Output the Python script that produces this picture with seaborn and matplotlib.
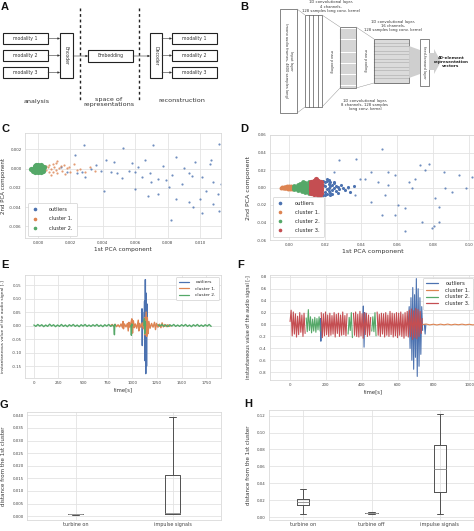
import numpy as np
import pandas as pd
import matplotlib
matplotlib.use("Agg")
import matplotlib.pyplot as plt
import matplotlib.ticker as mt
from matplotlib.patches import Rectangle, Polygon
from matplotlib.lines import Line2D
import seaborn as sns

nan = np.nan

# ---------------- DATA ----------------
# Panel C (PCA, 2 clusters)
c_outliers_x = [0.00285, 0.00525, 0.0071, 0.0112, 0.0023, 0.0042, 0.0047, 0.0066, 0.0085, 0.0097,
                0.0106, 0.0033, 0.0039, 0.0045, 0.0049, 0.0056, 0.0060, 0.0064, 0.0069, 0.0074,
                0.0079, 0.0083, 0.0089, 0.0093, 0.0101, 0.0108, 0.0113, 0.0041, 0.0060, 0.0074,
                0.0085, 0.0093, 0.0100, 0.0108, 0.0101, 0.0112, 0.0082, 0.0096, 0.0070, 0.0081,
                0.0068, 0.0104, 0.0111, 0.0018, 0.0024, 0.0014, 0.0029, 0.0036, 0.0052, 0.0077,
                0.0090, 0.0058, 0.0027, 0.0062, 0.0095, 0.0107]
c_outliers_y = [0.00246, 0.0021, 0.0025, 0.0026, 0.0014, 0.0009, 0.0007, 0.0009, 0.0012, 0.0007,
                0.0005, 0.0000, -0.0002, -0.0004, -0.0005, -0.0002, -0.0004, -0.0009, -0.0005, -0.0011,
                -0.0012, -0.0007, -0.0016, -0.0005, -0.0009, -0.0014, -0.0016, -0.0023, -0.0021, -0.0026,
                -0.0032, -0.0035, -0.0032, -0.0037, -0.0046, -0.0044, -0.0053, -0.0040, -0.0014, -0.0019,
                -0.0028, -0.0023, -0.0026, -0.0004, -0.0005, 0.0002, -0.0009, 0.0004, -0.0010, 0.0003,
                0.0001, 0.0006, -0.0003, 0.0002, -0.0008, 0.0009]
c_cluster1_x = [0.0003, 0.0004, 0.0005, 0.0005, 0.0006, 0.0007, 0.0007, 0.0008, 0.0009, 0.0009,
                0.0010, 0.0011, 0.0011, 0.0012, 0.0013, 0.0014, 0.0015, 0.0016, 0.0017, 0.0018,
                0.0019, 0.0020, 0.0022, 0.0024, 0.0026, 0.0029, 0.0032, 0.0035, 0.0012, 0.0008]
c_cluster1_y = [0.0001, -0.0002, 0.0003, -0.0001, 0.0002, -0.0003, 0.0004, 0.0000, 0.0005, -0.0004,
                0.0002, -0.0001, 0.0006, -0.0005, 0.0001, 0.0003, -0.0002, 0.0004, -0.0006, 0.0001,
                0.0002, -0.0003, 0.0005, -0.0001, 0.0000, -0.0004, 0.0002, -0.0002, 0.0008, -0.0007]
c_cluster2_x = [-0.0003, -0.0002, -0.0001, 0.0000, 0.0001, 0.0002, 0.0003, -0.0003, -0.0002, -0.0001,
                0.0000, 0.0001, 0.0002, 0.0003, -0.0002, -0.0001, 0.0000, 0.0001, 0.0002, -0.0002,
                0.0000, 0.0002, 0.0004, -0.0004, 0.0001]
c_cluster2_y = [0.0000, 0.0001, 0.0002, 0.0002, 0.0001, 0.0002, 0.0001, -0.0002, -0.0002, -0.0001,
                -0.0001, -0.0002, -0.0001, -0.0002, 0.0003, 0.0004, 0.0004, 0.0003, 0.0004, -0.0003,
                -0.0003, -0.0003, 0.0002, 0.0000, 0.0000]

# Panel D (PCA, 3 clusters)
d_outliers_core_x = [0.019, 0.019, 0.020, 0.020, 0.020, 0.021, 0.021, 0.021, 0.022, 0.022,
                     0.022, 0.023, 0.023, 0.023, 0.024, 0.024, 0.025, 0.025, 0.026, 0.026,
                     0.027, 0.028, 0.029, 0.030, 0.031, 0.033, 0.034, 0.036, 0.020, 0.022,
                     0.024, 0.019, 0.021, 0.023, 0.025, 0.027]
d_outliers_core_y = [0.008, -0.008, 0.006, 0.002, -0.005, 0.007, -0.002, -0.007, 0.004, 0.000,
                     -0.004, 0.006, -0.006, 0.002, 0.003, -0.003, 0.005, -0.001, 0.002, -0.004,
                     0.001, -0.002, 0.003, 0.000, -0.003, 0.001, -0.005, 0.002, -0.009, 0.009,
                     -0.007, 0.003, 0.010, -0.009, 0.006, -0.006]
d_outliers_far_x = [0.028, 0.0374, 0.0252, 0.0458, 0.0495, 0.0458, 0.0514, 0.0327, 0.0364, 0.042,
                    0.0551, 0.0589, 0.0607, 0.0645, 0.0682, 0.070, 0.0729, 0.0757, 0.0776, 0.0813,
                    0.0832, 0.0869, 0.0907, 0.0944, 0.0981, 0.1019, 0.0794, 0.0738, 0.0645, 0.0589,
                    0.0514, 0.0392, 0.0533, 0.0664, 0.086, 0.0551, 0.0832, 0.0804]
d_outliers_far_y = [0.031, 0.033, 0.0177, 0.0177, 0.0064, -0.0162, -0.031, -0.001, -0.0087, 0.0102,
                    0.0026, 0.014, -0.020, -0.0238, -0.0011, 0.0102, 0.0253, 0.0196, 0.0272, -0.0125,
                    -0.0219, -0.0011, -0.0049, 0.014, -0.0011, 0.012, -0.046, -0.039, -0.050, -0.031,
                    0.044, 0.0102, -0.0087, 0.0064, 0.0177, 0.0177, -0.039, -0.0445]
d_cluster1_x = [-0.0045, -0.004, -0.0035, -0.003, -0.0025, -0.002, -0.0015, -0.001, -0.0005, 0.0,
                0.0005, 0.001, 0.0015, 0.002, -0.003, -0.002, -0.001, 0.0, 0.001, -0.0025,
                -0.0015, -0.0005, 0.0005]
d_cluster1_y = [0.0, 0.0005, -0.0005, 0.0008, -0.0008, 0.0010, -0.0010, 0.0012, -0.0012, 0.0013,
                -0.0013, 0.0014, -0.0012, 0.0010, -0.0005, 0.0003, -0.0004, 0.0005, -0.0006, 0.0,
                0.0002, -0.0002, 0.0]
d_cluster2_x = [0.003, 0.003, 0.003, 0.005, 0.005, 0.005, 0.005, 0.007, 0.007, 0.007,
                0.007, 0.007, 0.009, 0.009, 0.009, 0.009, 0.009, 0.009, 0.011, 0.011,
                0.011, 0.011, 0.011, 0.004, 0.006, 0.008, 0.010, 0.008, 0.010, 0.006]
d_cluster2_y = [0.0015, 0.0, -0.0015, 0.0025, 0.0008, -0.0008, -0.0025, 0.0038, 0.0015, 0.0,
                -0.0015, -0.0038, 0.005, 0.0025, 0.0008, -0.0008, -0.0025, -0.005, 0.0058, 0.003,
                0.0, -0.003, -0.0058, 0.0, 0.0, 0.0, 0.0015, 0.006, -0.0045, 0.0045]
d_cluster3_x = [0.012, 0.012, 0.012, 0.012, 0.012, 0.014, 0.014, 0.014, 0.014, 0.014,
                0.014, 0.016, 0.016, 0.016, 0.016, 0.016, 0.016, 0.018, 0.018, 0.018,
                0.018, 0.018, 0.013, 0.015, 0.017, 0.015, 0.017, 0.013]
d_cluster3_y = [0.006, 0.003, 0.0, -0.003, -0.006, 0.0075, 0.0045, 0.0015, -0.0015, -0.0045,
                -0.0075, 0.008, 0.005, 0.0017, -0.0017, -0.005, -0.008, 0.0065, 0.003, 0.0,
                -0.003, -0.0065, 0.0015, 0.0, 0.0, 0.0095, -0.009, -0.0015]

# Panel E (signal, 2 clusters)
e_outliers_t = [1095, 1098, 1101, 1104, 1107, nan, 1120, 1124, 1128, 1132, 1136, 1140, 1144, 1148, 1152]
e_outliers_v = [0.0, 0.062, -0.074, 0.05, 0.0, nan, 0.0, 0.09, -0.13, 0.17, -0.178, 0.12, -0.15, 0.08, 0.0]
e_cluster1_t = [780, 795, 810, 825, 840, 855, 870, 885, 900, 905, 910, 920, 935, 950, 958, 965, 975,
                985, 995, 1002, 1010, 1020, 1030, 1045, 1060, 1066, 1075, 1085, 1100, 1110, 1125,
                1130, 1140, 1146, 1152, 1160, 1168, 1180, 1195, 1210, 1225, 1235, 1245, 1260, 1275,
                1290, 1302, 1315, 1330, 1345, 1360, 1375, 1390]
e_cluster1_v = [0.0, 0.004, -0.003, 0.005, -0.004, 0.003, -0.005, 0.006, -0.008, 0.015, -0.012, 0.006,
                -0.005, 0.008, -0.02, 0.012, -0.006, 0.01, 0.025, -0.028, 0.018, -0.008, 0.006, -0.01,
                0.02, -0.02, 0.008, -0.006, 0.01, -0.012, 0.03, -0.035, 0.05, -0.04, 0.03, -0.03,
                0.015, -0.01, 0.008, -0.006, 0.012, -0.015, 0.008, -0.006, 0.005, -0.008, 0.01,
                -0.005, 0.004, -0.004, 0.003, -0.003, 0.0]
e_cluster2_t = (list(range(0, 801, 20)) + [nan, 812, 818, 822, 828, nan, 985, 990, 995, 1000, nan,
                1118, 1122, 1126, 1130, 1134, nan] + list(range(1260, 1801, 20)))
e_cluster2_v = ([0.002, -0.003, 0.004, -0.002, 0.003, -0.004, 0.002, -0.003, 0.005, -0.002,
                 0.003, -0.004, 0.002, -0.003, 0.004, -0.003, 0.002, -0.004, 0.003, -0.002,
                 0.004, -0.003, 0.002, -0.004, 0.003, -0.002, 0.004, -0.003, 0.002, -0.003,
                 0.003, -0.002, 0.004, -0.003, 0.002, -0.004, 0.003, -0.002, 0.004, -0.003, 0.002]
                + [nan, 0.0, -0.034, 0.004, 0.0, nan, 0.0, -0.036, 0.006, 0.0, nan,
                   0.0, 0.025, -0.03, 0.015, 0.0, nan]
                + [0.003, -0.002, 0.004, -0.003, 0.002, -0.004, 0.003, -0.002, 0.004, -0.003,
                   0.002, -0.003, 0.003, -0.002, 0.004, -0.003, 0.002, -0.004, 0.003, -0.002,
                   0.004, -0.003, 0.002, -0.003, 0.003, -0.002, 0.004, -0.003])

# Panel F (signal, 3 clusters)
f_noise_t = list(range(0, 739, 6))
f_noise_v = [0.05, 0.24, -0.19, 0.21, -0.16, 0.18, -0.21, 0.14, -0.17, 0.20,
             -0.13, 0.16, -0.20, 0.19, -0.15, 0.11, -0.12, 0.25, -0.10, 0.13,
             -0.14, 0.09, -0.11, 0.12, -0.13, 0.10, -0.09, 0.13, -0.11, 0.20,
             -0.22, 0.18, -0.19, 0.21, -0.17, 0.16, -0.20, 0.19, -0.18, 0.15,
             -0.16, 0.20, -0.21, 0.17, -0.15, 0.19, -0.20, 0.16, -0.18, 0.21,
             -0.17, 0.15, -0.19, 0.18, -0.16, 0.12, -0.10, 0.20, -0.22, 0.19,
             -0.18, 0.21, -0.20, 0.17, -0.21, 0.22, -0.19, 0.18, -0.23, 0.20,
             -0.17, 0.19, -0.20, 0.16, -0.18, 0.12, -0.11, 0.13, -0.12, 0.20,
             -0.19, 0.21, -0.18, 0.17, -0.20, 0.19, -0.16, 0.18, -0.21, 0.20,
             -0.18, 0.16, -0.20, 0.22, -0.17, 0.19, -0.21, 0.18, -0.19, 0.20,
             -0.22, 0.19, -0.18, 0.21, -0.20, 0.17, -0.23, 0.20, -0.19, 0.22,
             -0.21, 0.24, -0.20, 0.26, -0.25, 0.23, -0.22, 0.27, -0.24, 0.25,
             -0.20, 0.22, -0.15, 0.10]
f_cluster2_spans = [(88, 172), (322, 348), (455, 482)]
f_outliers_t = [166, 169, 172, 175, 178, nan, 405, 409, 413, 417, 421, nan,
                660, 665, 670, 675, 680, 685, 690, 695, 700, 705, 710, 715, 720, 725, 730, 735, 740,
                nan, 750, 754, 758]
f_outliers_v = [0.0, 0.1, -0.28, 0.08, 0.0, nan, 0.0, 0.31, -0.38, 0.2, 0.0, nan,
                0.0, 0.3, -0.4, 0.45, -0.6, 0.62, -0.75, 0.5, -0.55, 0.77, -0.87, 0.6, -0.7,
                0.45, -0.5, 0.3, -0.1, nan, 0.0, -0.16, 0.0]
f_cluster1_t = list(range(740, 1041, 20))
f_cluster1_v = [0.0, 0.008, -0.006, 0.005, -0.007, 0.006, -0.005, 0.007, -0.006, 0.005,
                -0.004, 0.006, -0.005, 0.004, -0.006, 0.003]

# Panels G, H (box plots: whisker-low, q1, median, q3, whisker-high)
g_categories = ["turbine on", "impulse signals"]
g_turbine_on = [0.00065, 0.00075, 0.0008, 0.00088, 0.00095]
g_impulse = [0.0008, 0.0010, 0.0011, 0.0165, 0.0393]
h_categories = ["turbine on", "turbine off", "impulse signals"]
h_turbine_on = [0.0035, 0.0145, 0.0185, 0.022, 0.0335]
h_turbine_off = [0.0043, 0.0048, 0.0051, 0.0054, 0.0060]
h_impulse = [0.0035, 0.0305, 0.0565, 0.0855, 0.122]

cluster_names = ["outliers", "cluster 1.", "cluster 2.", "cluster 3."]

# ---------------- STYLE ----------------
sns.set_theme(style="whitegrid")
plt.rcParams.update({
    "font.family": ["DejaVu Sans"],
    "axes.unicode_minus": False,
    "axes.edgecolor": "#d9d9d9",
    "axes.linewidth": 0.6,
    "grid.color": "#e3e3e3",
    "grid.linewidth": 0.6,
    "xtick.labelsize": 2.9,
    "ytick.labelsize": 2.8,
    "xtick.major.size": 0,
    "ytick.major.size": 0,
    "xtick.major.pad": 2.0,
    "ytick.major.pad": 2.5,
    "axes.labelsize": 4.2,
    "axes.labelpad": 1.5,
    "axes.labelcolor": "#333333",
    "xtick.color": "#444444",
    "ytick.color": "#444444",
})
deep = sns.color_palette("deep")
colors = {"outliers": deep[0], "cluster 1.": deep[1], "cluster 2.": deep[2], "cluster 3.": deep[3]}

W, H = 474, 531
fig = plt.figure(figsize=(W / 100, H / 100), dpi=100)
fig.patch.set_facecolor("white")


def rect(l, t, r, b):
    return [l / W, 1 - b / H, (r - l) / W, (b - t) / H]


def ylabel_at(ax, px, left, right):
    ax.yaxis.set_label_coords((px - left) / (right - left), 0.5)


def style_legend(ax, handles, loc, fs=3.6, **kw):
    opts = dict(fontsize=fs, frameon=True, framealpha=1, edgecolor="#d0d0d0", borderpad=0.8,
                labelspacing=0.7, handlelength=2.2, handletextpad=1.4)
    opts.update(kw)
    leg = ax.legend(handles=handles, loc=loc, **opts)
    leg.get_frame().set_linewidth(0.5)
    return leg


def line_frame(t, v, name, tag=""):
    rows, seg = [], 0
    for ti, vi in zip(t, v):
        if np.isnan(ti) or np.isnan(vi):
            seg += 1
            continue
        rows.append((ti, vi, name, f"{name}{tag}-{seg}"))
    return pd.DataFrame(rows, columns=["t", "v", "cluster", "seg"])


# ---------------- C ----------------
C_L, C_R = 25, 221
axC = fig.add_axes(rect(C_L, 133, C_R, 238))
sns.scatterplot(x=c_outliers_x, y=c_outliers_y, color=colors["outliers"], s=2.5, linewidth=0, alpha=0.8, ax=axC)
sns.scatterplot(x=c_cluster1_x, y=c_cluster1_y, color=colors["cluster 1."], s=2.5, linewidth=0, alpha=0.8, ax=axC)
sns.scatterplot(x=c_cluster2_x, y=c_cluster2_y, color=colors["cluster 2."], s=14, linewidth=0, ax=axC)
axC.set_xlim(-0.0008, 0.0113)
axC.set_ylim(-0.0072, 0.0037)
axC.xaxis.set_major_locator(mt.MultipleLocator(0.002))
axC.yaxis.set_major_locator(mt.MultipleLocator(0.002))
axC.xaxis.set_major_formatter(mt.FormatStrFormatter("%.3f"))
axC.yaxis.set_major_formatter(mt.FormatStrFormatter("%.3f"))
axC.set_xlabel("1st PCA component")
axC.set_ylabel("2nd PCA component", fontsize=4.0)
ylabel_at(axC, 6, C_L, C_R)
style_legend(axC, [Line2D([], [], ls="", marker="o", markersize=1.6, color=colors[n], label=n)
                   for n in cluster_names[:3]], "lower left", fs=3.6,
             handlelength=1.2, handletextpad=2.2, borderpad=0.9, labelspacing=0.9)

# ---------------- D ----------------
D_L, D_R = 270, 476
axD = fig.add_axes(rect(D_L, 135, D_R, 240))
sns.scatterplot(x=d_outliers_far_x, y=d_outliers_far_y, color=colors["outliers"], s=2.5, linewidth=0, alpha=0.8, ax=axD)
sns.scatterplot(x=d_outliers_core_x, y=d_outliers_core_y, color=colors["outliers"], s=5, linewidth=0, ax=axD)
sns.scatterplot(x=d_cluster1_x, y=d_cluster1_y, color=colors["cluster 1."], s=8, linewidth=0, ax=axD)
sns.scatterplot(x=d_cluster2_x, y=d_cluster2_y, color=colors["cluster 2."], s=12, linewidth=0, ax=axD)
sns.scatterplot(x=d_cluster3_x, y=d_cluster3_y, color=colors["cluster 3."], s=14, linewidth=0, ax=axD)
axD.set_xlim(-0.0106, 0.1039)
axD.set_ylim(-0.06, 0.06)
axD.xaxis.set_major_locator(mt.MultipleLocator(0.02))
axD.yaxis.set_major_locator(mt.MultipleLocator(0.02))
axD.xaxis.set_major_formatter(mt.FormatStrFormatter("%.2f"))
axD.yaxis.set_major_formatter(mt.FormatStrFormatter("%.2f"))
axD.set_xlabel("1st PCA component", fontsize=4.5)
axD.set_ylabel("2nd PCA component", fontsize=4.5)
ylabel_at(axD, 251, D_L, D_R)
style_legend(axD, [Line2D([], [], ls="", marker="o", markersize=1.6, color=colors[n], label=n)
                   for n in cluster_names], "lower left", fs=3.8,
             handlelength=1.2, handletextpad=2.2, borderpad=0.8, labelspacing=0.75)

# ---------------- E ----------------
E_L, E_R = 25, 221
axE = fig.add_axes(rect(E_L, 275, E_R, 378))
dfE = pd.concat([line_frame(e_outliers_t, e_outliers_v, "outliers"),
                 line_frame(e_cluster1_t, e_cluster1_v, "cluster 1."),
                 line_frame(e_cluster2_t, e_cluster2_v, "cluster 2.")], ignore_index=True)
sns.lineplot(data=dfE, x="t", y="v", hue="cluster", units="seg", estimator=None, sort=False,
             hue_order=cluster_names[:3], palette=colors, linewidth=1.0, legend=False, ax=axE)
axE.set_xlim(-90, 1900)
axE.set_ylim(-0.194, 0.187)
axE.xaxis.set_major_locator(mt.MultipleLocator(250))
axE.yaxis.set_major_locator(mt.MultipleLocator(0.05))
axE.yaxis.set_major_formatter(mt.FormatStrFormatter("%.2f"))
axE.set_xlabel("time[s]", fontsize=3.8)
axE.set_ylabel("instantaneous value of the audio signal [-]", fontsize=3.2)
ylabel_at(axE, 5, E_L, E_R)
style_legend(axE, [Line2D([], [], lw=0.9, color=colors[n], label=n) for n in cluster_names[:3]],
             "upper right", fs=3.2, labelspacing=0.5, borderpad=0.7)

# ---------------- F ----------------
F_L, F_R = 270, 476
axF = fig.add_axes(rect(F_L, 275, F_R, 380))
noise_labels = ["cluster 2." if any(a <= t <= b for a, b in f_cluster2_spans) else "cluster 3."
                for t in f_noise_t]
noise_rows, seg = [], 0
for i, (t, v, lab) in enumerate(zip(f_noise_t, f_noise_v, noise_labels)):
    if i > 0 and lab != noise_labels[i - 1]:
        seg += 1
    noise_rows.append((t, v, lab, f"noise-{seg}"))
dfF = pd.concat([line_frame(f_outliers_t, f_outliers_v, "outliers"),
                 line_frame(f_cluster1_t, f_cluster1_v, "cluster 1."),
                 pd.DataFrame(noise_rows, columns=["t", "v", "cluster", "seg"])], ignore_index=True)
sns.lineplot(data=dfF, x="t", y="v", hue="cluster", units="seg", estimator=None, sort=False,
             hue_order=cluster_names, palette=colors, linewidth=0.8, legend=False, ax=axF)
axF.set_xlim(-112, 1038)
axF.set_ylim(-0.93, 0.83)
axF.xaxis.set_major_locator(mt.MultipleLocator(200))
axF.yaxis.set_major_locator(mt.MultipleLocator(0.2))
axF.yaxis.set_major_formatter(mt.FormatStrFormatter("%.1f"))
axF.set_xlabel("time[s]", fontsize=3.8)
axF.set_ylabel("instantaneous value of the audio signal [-]", fontsize=3.5)
ylabel_at(axF, 251, F_L, F_R)
style_legend(axF, [Line2D([], [], lw=0.9, color=colors[n], label=n) for n in cluster_names],
             "upper right", fs=3.8, labelspacing=0.35, borderpad=0.6)

# ---------------- G ----------------
box_kw = dict(whis=(0, 100), fill=False, color="#505050", linewidth=0.7,
              medianprops=dict(color="#9a9a9a", linewidth=0.7))
G_L, G_R = 27, 221
axG = fig.add_axes(rect(G_L, 412, G_R, 520))
dfG = pd.DataFrame({"cat": [g_categories[0]] * len(g_turbine_on) + [g_categories[1]] * len(g_impulse),
                    "val": g_turbine_on + g_impulse})
sns.boxplot(data=dfG, x="cat", y="val", order=g_categories, width=0.15, ax=axG, **box_kw)
axG.set_ylim(-0.0015, 0.0413)
axG.yaxis.set_major_locator(mt.MultipleLocator(0.005))
axG.yaxis.set_major_formatter(mt.FormatStrFormatter("%.3f"))
axG.set_xlabel("")
axG.set_ylabel("distance from the 1st cluster", fontsize=4.0)
ylabel_at(axG, 6, G_L, G_R)
axG.tick_params(axis="x", labelsize=3.5, pad=1.5)
axG.grid(True, axis="x")

# ---------------- H ----------------
H_L, H_R = 269, 474
axH = fig.add_axes(rect(H_L, 410, H_R, 520))
dfH = pd.DataFrame({"cat": [h_categories[0]] * len(h_turbine_on) + [h_categories[1]] * len(h_turbine_off)
                    + [h_categories[2]] * len(h_impulse),
                    "val": h_turbine_on + h_turbine_off + h_impulse})
sns.boxplot(data=dfH, x="cat", y="val", order=h_categories, width=0.18, ax=axH, **box_kw)
axH.set_ylim(-0.003, 0.1265)
axH.yaxis.set_major_locator(mt.MultipleLocator(0.02))
axH.yaxis.set_major_formatter(mt.FormatStrFormatter("%.2f"))
axH.set_xlabel("")
axH.set_ylabel("distance from the 1st cluster", fontsize=4.0)
ylabel_at(axH, 251, H_L, H_R)
axH.tick_params(axis="x", labelsize=3.6, pad=1.5)
axH.grid(True, axis="x")

# ---------------- Diagrams A, B and panel letters ----------------
ov = fig.add_axes([0, 0, 1, 1])
ov.set_xlim(0, W)
ov.set_ylim(H, 0)
ov.set_axis_off()

TXT = "#333333"
def box(x, y, w, h, lw=0.8, ec="#222222"):
    ov.add_patch(Rectangle((x, y), w, h, fill=False, ec=ec, lw=lw))

def arrow(x0, y0, x1, y1):
    ov.annotate("", xy=(x1, y1), xytext=(x0, y0),
                arrowprops=dict(arrowstyle="-|>", lw=0.4, color="#333333", mutation_scale=3,
                                shrinkA=0, shrinkB=0))

# A
for i, yy in enumerate([33, 50, 67]):
    box(3, yy, 45, 11)
    ov.text(25.5, yy + 5.5, f"modality {i + 1}", fontsize=3.3, ha="center", va="center", color=TXT)
    arrow(48, yy + 5.5, 60, yy + 5.5)
    box(172, yy, 45, 11)
    ov.text(194.5, yy + 5.5, f"modality {i + 1}", fontsize=3.3, ha="center", va="center", color=TXT)
    arrow(162, yy + 5.5, 172, yy + 5.5)
box(60, 33, 13, 45)
ov.text(66.5, 55.5, "Encoder", fontsize=3.3, rotation=270, ha="center", va="center", color=TXT)
box(150, 33, 12, 45)
ov.text(156, 55.5, "Decoder", fontsize=3.3, rotation=270, ha="center", va="center", color=TXT)
box(88, 50, 45, 12)
ov.text(110.5, 56, "Embedding", fontsize=3.3, ha="center", va="center", color=TXT)
arrow(73, 56, 88, 56)
arrow(133, 56, 150, 56)
for xx in (80, 139):
    ov.plot([xx, xx], [8, 100], color="#222222", lw=1.0, ls=(0, (2, 2)))
ov.text(37, 101, "analysis", fontsize=4.6, ha="center", va="center", color=TXT)
ov.text(109, 102, "space of\nrepresentations", fontsize=4.6, ha="center", va="center",
        color=TXT, linespacing=1.1)
ov.text(182, 101, "reconstruction", fontsize=4.6, ha="center", va="center", color=TXT)

# B
G = "#555555"
box(280, 9, 17, 104, lw=0.5, ec=G)
ov.text(288.5, 61, "Input layer\n(mono audio frames, 4800 samples long)", fontsize=2.6,
        rotation=270, ha="center", va="center", color=TXT, linespacing=1.2)
ov.plot([297, 305], [9, 15], color="#888888", lw=0.3)
ov.plot([297, 305], [113, 107], color="#888888", lw=0.3)
box(305, 15, 17, 92, lw=0.5, ec=G)
for xx in (309, 313.5, 318):
    ov.plot([xx, xx], [15, 107], color=G, lw=0.5)
ov.plot([322, 340], [15, 27], color="#888888", lw=0.3)
ov.plot([322, 340], [107, 88], color="#888888", lw=0.3)
ov.text(331, 61, "max pooling", fontsize=2.6, rotation=270, ha="center", va="center", color=TXT)
box(340, 27, 16, 61, lw=0.5, ec=G)
for yy in np.arange(29.5, 88, 2.2):
    ov.plot([340, 356], [yy, yy], color=G, lw=0.35)
ov.plot([356, 374], [27, 39], color="#888888", lw=0.3)
ov.plot([356, 374], [88, 83], color="#888888", lw=0.3)
ov.text(365, 60, "max pooling", fontsize=2.6, rotation=270, ha="center", va="center", color=TXT)
box(374, 39, 35, 44, lw=0.5, ec=G)
for yy in np.arange(41, 83, 1.6):
    ov.plot([374, 409], [yy, yy], color=G, lw=0.3)
ov.add_patch(Polygon([[409, 46], [420, 50], [420, 74], [409, 78]], closed=True, fc="#cfcfcf", ec="none"))
box(420, 39, 9, 47, lw=0.5, ec=G)
ov.text(424.5, 62.5, "feed-forward layer", fontsize=2.5, rotation=270, ha="center", va="center", color=TXT)
ov.add_patch(Polygon([[429, 53], [434, 53], [434, 49], [441, 61.5], [434, 74], [434, 70], [429, 70]],
                     closed=True, fc="#cfcfcf", ec="none"))
ov.text(451, 62, "40-element\nrepresentation\nvectors", fontsize=3.0, fontweight="bold",
        ha="center", va="center", color="#222222", linespacing=1.15)
ov.text(331, 6.5, "1D convolutional layer,\n4 channels,\n128 samples long conv. kernel", fontsize=2.7,
        ha="center", va="center", color=TXT, linespacing=1.15)
ov.text(393, 26, "1D convolutional layer,\n16 channels,\n128 samples long conv. kernel", fontsize=2.7,
        ha="center", va="center", color=TXT, linespacing=1.15)
ov.text(365, 105, "1D convolutional layer,\n8 channels, 128 samples\nlong conv. kernel", fontsize=2.7,
        ha="center", va="center", color=TXT, linespacing=1.15)

# panel letters
for lab, x, y in [("A", 1, 2), ("B", 240, 2), ("C", 1, 124), ("D", 240, 124),
                  ("E", 1, 260), ("F", 237, 260), ("G", 0, 400), ("H", 244, 399)]:
    ov.text(x, y, lab, fontsize=8, fontweight="bold", ha="left", va="top",
            family=["Liberation Sans", "DejaVu Sans"], color="#111111")

fig.savefig("out.png", dpi=100, facecolor="white")
